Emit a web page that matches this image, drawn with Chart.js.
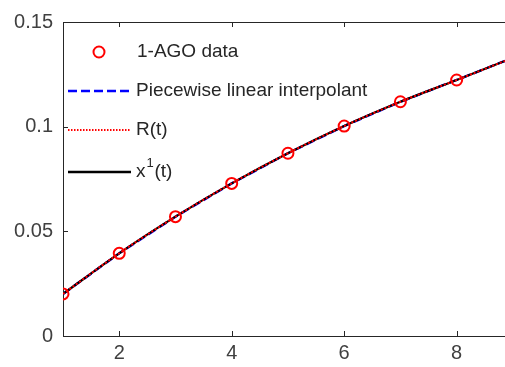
<!DOCTYPE html>
<html>
<head>
<meta charset="utf-8">
<script src="https://cdn.jsdelivr.net/npm/chart.js@4"></script>
<style>
  body { margin: 0; background: #fff; }
  #wrap { width: 505px; height: 367px; position: relative; }
</style>
</head>
<body>
<div id="wrap"><canvas id="agoChart"></canvas></div>
<script>
// values
const tValues = [1, 2, 3, 4, 5, 6, 7, 8];
const agoData = [0.0201, 0.0395, 0.0570, 0.0729, 0.0873, 0.1003, 0.1119, 0.1223];
const curveT = [1, 2, 3, 4, 5, 6, 7, 8, 8.86];
const curveValues = [0.0201, 0.0395, 0.0570, 0.0729, 0.0873, 0.1003, 0.1119, 0.1223, 0.1314];
const xTicks = [2, 4, 6, 8];
const yTicks = [0, 0.05, 0.1, 0.15];
const legendLabels = ['1-AGO data', 'Piecewise linear interpolant', 'R(t)', 'x'];

const FONT = "'Liberation Sans', Arial, sans-serif";
const axisColor = '#262626';

function toPoints(xs, ys) {
    return xs.map((x, i) => ({ x: x, y: ys[i] }));
}

// inner tick marks, top box line and the legend (MATLAB style)
const matlabDecor = {
    id: 'matlabDecor',
    afterDraw(chart) {
        const ctx = chart.ctx;
        const area = chart.chartArea;
        const xs = chart.scales.x;
        const ys = chart.scales.y;
        ctx.save();
        ctx.strokeStyle = axisColor;
        ctx.lineWidth = 1;
        ctx.beginPath();
        // top box line
        ctx.moveTo(area.left, area.top + 0.5);
        ctx.lineTo(area.right, area.top + 0.5);
        xTicks.forEach(v => {
            const px = Math.round(xs.getPixelForValue(v)) + 0.5;
            ctx.moveTo(px, area.bottom);
            ctx.lineTo(px, area.bottom - 5);
            ctx.moveTo(px, area.top);
            ctx.lineTo(px, area.top + 5);
        });
        yTicks.forEach(v => {
            const py = Math.round(ys.getPixelForValue(v)) + 0.5;
            ctx.moveTo(area.left, py);
            ctx.lineTo(area.left + 5, py);
        });
        ctx.stroke();

        // legend
        const lx0 = 68, lx1 = 131, tx = 136;
        const rows = [52, 91, 130, 172];
        ctx.fillStyle = '#262626';
        ctx.font = '19px ' + FONT;
        ctx.textBaseline = 'middle';
        ctx.textAlign = 'left';

        ctx.beginPath();
        ctx.strokeStyle = '#ff0000';
        ctx.lineWidth = 2;
        ctx.arc(99, rows[0], 5.5, 0, Math.PI * 2);
        ctx.stroke();
        ctx.fillText(legendLabels[0], tx + 1, rows[0]);

        ctx.beginPath();
        ctx.strokeStyle = '#0000ff';
        ctx.lineWidth = 2.5;
        ctx.setLineDash([9, 4]);
        ctx.moveTo(lx0, rows[1]);
        ctx.lineTo(lx1, rows[1]);
        ctx.stroke();
        ctx.fillText(legendLabels[1], tx, rows[1]);

        ctx.beginPath();
        ctx.strokeStyle = '#ff0000';
        ctx.lineWidth = 2;
        ctx.setLineDash([1.5, 1.5]);
        ctx.moveTo(lx0, rows[2]);
        ctx.lineTo(lx1, rows[2]);
        ctx.stroke();
        ctx.fillText(legendLabels[2], tx, rows[2]);

        ctx.beginPath();
        ctx.strokeStyle = '#000000';
        ctx.lineWidth = 2.5;
        ctx.setLineDash([]);
        ctx.moveTo(lx0, rows[3]);
        ctx.lineTo(lx1, rows[3]);
        ctx.stroke();
        ctx.fillText(legendLabels[3], tx, rows[3]);
        const wx = ctx.measureText(legendLabels[3]).width;
        ctx.font = '13px ' + FONT;
        ctx.fillText('1', tx + wx + 1, rows[3] - 9);
        ctx.font = '19px ' + FONT;
        ctx.fillText('(t)', tx + wx + 9, rows[3]);
        ctx.restore();
    }
};

function renderChart() {
    const ctx = document.getElementById('agoChart').getContext('2d');
    new Chart(ctx, {
        type: 'scatter',
        data: {
            datasets: [
                {
                    label: legendLabels[0],
                    data: toPoints(tValues, agoData),
                    showLine: false,
                    pointStyle: 'circle',
                    pointRadius: 5.5,
                    pointBorderWidth: 2,
                    pointBorderColor: '#ff0000',
                    pointBackgroundColor: 'rgba(0,0,0,0)'
                },
                {
                    label: 'R(t)',
                    data: toPoints(curveT, curveValues),
                    showLine: true,
                    borderColor: '#ff0000',
                    borderWidth: 2,
                    borderDash: [2, 2],
                    cubicInterpolationMode: 'monotone',
                    pointRadius: 0
                },
                {
                    label: 'x1(t)',
                    data: toPoints(curveT, curveValues),
                    showLine: true,
                    borderColor: '#000000',
                    borderWidth: 2.2,
                    cubicInterpolationMode: 'monotone',
                    pointRadius: 0
                },
                {
                    label: legendLabels[1],
                    data: toPoints(curveT, curveValues),
                    showLine: true,
                    borderColor: '#0000ff',
                    borderWidth: 2.4,
                    borderDash: [9, 4],
                    pointRadius: 0
                }
            ]
        },
        options: {
            responsive: true,
            maintainAspectRatio: false,
            animation: false,
            layout: {
                autoPadding: false,
                padding: { top: 22, right: 0, left: 0, bottom: 0 }
            },
            plugins: {
                legend: { display: false },
                tooltip: { enabled: false }
            },
            scales: {
                x: {
                    type: 'linear',
                    min: 1,
                    max: 8.86,
                    afterBuildTicks: scale => {
                        scale.ticks = xTicks.map(v => ({ value: v }));
                    },
                    afterFit: scale => {
                        scale.height = 31;
                        scale.paddingLeft = 0;
                        scale.paddingRight = 0;
                    },
                    grid: { display: false, drawTicks: false },
                    border: { display: true, color: axisColor, width: 1 },
                    ticks: {
                        color: '#404040',
                        padding: 5,
                        font: { family: FONT, size: 20 }
                    }
                },
                y: {
                    min: 0,
                    max: 0.15,
                    afterBuildTicks: scale => {
                        scale.ticks = yTicks.map(v => ({ value: v }));
                    },
                    afterFit: scale => {
                        scale.width = 63;
                        scale.paddingTop = 0;
                        scale.paddingBottom = 0;
                    },
                    grid: { display: false, drawTicks: false },
                    border: { display: true, color: axisColor, width: 1 },
                    ticks: {
                        color: '#404040',
                        padding: 10,
                        font: { family: FONT, size: 20 },
                        callback: v => String(Math.round(v * 100) / 100)
                    }
                }
            }
        },
        plugins: [matlabDecor]
    });
}

document.addEventListener('DOMContentLoaded', renderChart);
</script>
</body>
</html>
